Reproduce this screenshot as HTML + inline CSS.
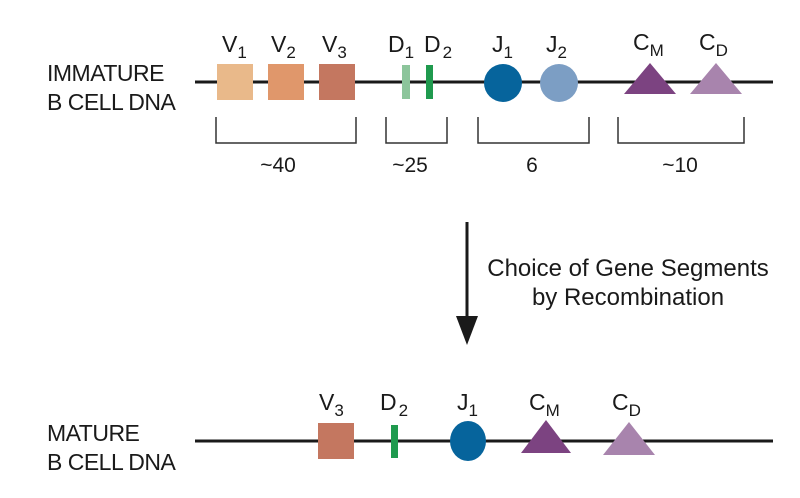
<!DOCTYPE html>
<html><head><meta charset="utf-8"><style>
html,body{margin:0;padding:0;background:#fff;}
svg{display:block;}
text{font-family:"Liberation Sans",Arial,sans-serif;fill:#1a1a1a;}
</style></head><body>
<svg width="800" height="498" viewBox="0 0 800 498" xmlns="http://www.w3.org/2000/svg">
<!-- top -->
<text x="47" y="81" font-size="23" letter-spacing="-0.5">IMMATURE</text>
<text x="47" y="110" font-size="23" letter-spacing="-0.5">B CELL DNA</text>
<line x1="195" y1="82" x2="773" y2="82" stroke="#1a1a1a" stroke-width="3"/>
<rect x="217" y="64" width="36" height="36" fill="#e9b98a"/>
<rect x="268" y="64" width="36" height="36" fill="#e0976b"/>
<rect x="319" y="64" width="36" height="36" fill="#c47760"/>
<rect x="402" y="65" width="8" height="34" fill="#8cc59b"/>
<rect x="426" y="65" width="7" height="34" fill="#1f9a4e"/>
<circle cx="503" cy="83" r="19" fill="#06649c"/>
<circle cx="559" cy="83" r="19" fill="#7c9ec4"/>
<polygon points="650,63 624,94 676,94" fill="#7c4381"/>
<polygon points="716,63 690,94 742,94" fill="#a884ad"/>
<g font-size="23">
<text x="222" y="52">V<tspan font-size="17" dy="6">1</tspan></text>
<text x="271" y="52">V<tspan font-size="17" dy="6">2</tspan></text>
<text x="322" y="52">V<tspan font-size="17" dy="6">3</tspan></text>
<text x="388" y="52">D<tspan font-size="17" dy="6">1</tspan></text>
<text x="424" y="52">D<tspan font-size="17" dx="2" dy="6">2</tspan></text>
<text x="492" y="52">J<tspan font-size="17" dy="6">1</tspan></text>
<text x="546" y="52">J<tspan font-size="17" dy="6">2</tspan></text>
<text x="633" y="50">C<tspan font-size="17" dy="6">M</tspan></text>
<text x="699" y="50">C<tspan font-size="17" dy="6">D</tspan></text>
</g>
<g fill="none" stroke="#333" stroke-width="1.5">
<polyline points="216,117 216,143 356,143 356,117"/>
<polyline points="386,117 386,143 447,143 447,117"/>
<polyline points="478,117 478,143 589,143 589,117"/>
<polyline points="618,117 618,143 744,143 744,117"/>
</g>
<g font-size="21" text-anchor="middle">
<text x="278" y="172">~40</text>
<text x="410" y="172">~25</text>
<text x="532" y="172">6</text>
<text x="680" y="172">~10</text>
</g>
<!-- arrow -->
<line x1="467" y1="222" x2="467" y2="320" stroke="#1a1a1a" stroke-width="3"/>
<polygon points="456,316 478,316 467,345" fill="#1a1a1a"/>
<text x="628" y="276" font-size="24" text-anchor="middle">Choice of Gene Segments</text>
<text x="628" y="305" font-size="24" text-anchor="middle">by Recombination</text>
<!-- bottom -->
<text x="47" y="441" font-size="23" letter-spacing="-0.5">MATURE</text>
<text x="47" y="470" font-size="23" letter-spacing="-0.5">B CELL DNA</text>
<line x1="195" y1="441" x2="773" y2="441" stroke="#1a1a1a" stroke-width="3"/>
<rect x="318" y="423" width="36" height="36" fill="#c47760"/>
<rect x="391" y="425" width="7" height="33" fill="#1f9a4e"/>
<ellipse cx="468" cy="441" rx="18" ry="20" fill="#06649c"/>
<polygon points="546,420 521,453 571,453" fill="#7c4381"/>
<polygon points="629,422 603,455 655,455" fill="#a884ad"/>
<g font-size="23">
<text x="319" y="410">V<tspan font-size="17" dy="6">3</tspan></text>
<text x="380" y="410">D<tspan font-size="17" dx="2" dy="6">2</tspan></text>
<text x="457" y="410">J<tspan font-size="17" dy="6">1</tspan></text>
<text x="529" y="410">C<tspan font-size="17" dy="6">M</tspan></text>
<text x="612" y="410">C<tspan font-size="17" dy="6">D</tspan></text>
</g>
</svg>
</body></html>
